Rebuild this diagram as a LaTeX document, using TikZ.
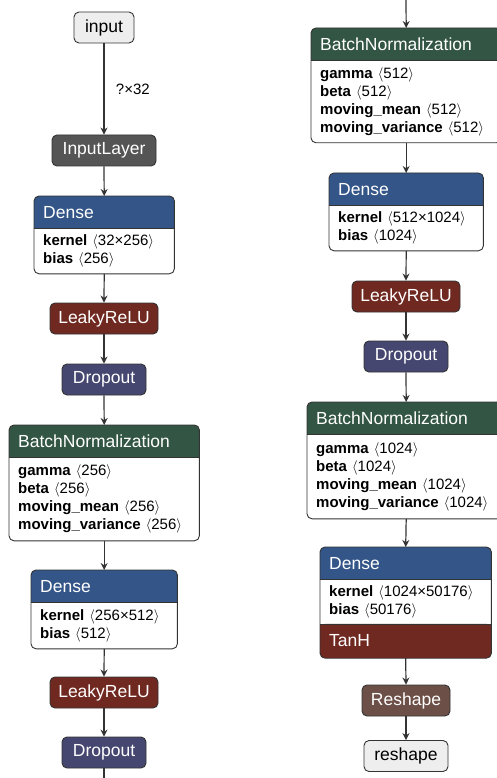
\documentclass[tikz,border=0pt]{standalone}
\usepackage{fontspec}
\setmainfont{Liberation Sans}
\usetikzlibrary{arrows.meta,backgrounds}
\definecolor{couche}{RGB}{51,85,136}
\definecolor{activation}{RGB}{112,41,33}
\definecolor{normalisation}{RGB}{51,85,68}
\definecolor{abandon}{RGB}{69,71,112}
\definecolor{forme}{RGB}{108,79,71}
\definecolor{donnees}{RGB}{85,85,85}
\definecolor{entree}{RGB}{238,238,238}
\definecolor{bord}{RGB}{51,51,51}
\newcommand\taille[1]{\ $\langle$#1$\rangle$}
\begin{document}
\begin{tikzpicture}[x=1pt,y=-1pt]
	% Styles
	\tikzstyle{fleche}=[-{Stealth[length=7pt,width=7pt]},line width=1.2pt,draw=bord]
	\tikzstyle{lien}=[-,line width=1.2pt,draw=bord]
	\tikzstyle{noeud}=[draw=bord,line width=0.9pt,rounded corners=5pt,minimum height=31pt,inner sep=0pt,text=white,font=\fontsize{17.5}{19}\selectfont]
	\tikzstyle{feuille}=[noeud,fill=entree,text=black]
	\tikzstyle{entete}=[rectangle,minimum height=32pt,inner xsep=9pt,inner ysep=0pt,text=white,align=left,anchor=north west,font=\fontsize{17.5}{19}\selectfont]
	\tikzstyle{corps}=[rectangle,inner xsep=9pt,inner ysep=0pt,align=left,anchor=north west,font=\fontsize{15}{18}\selectfont]
	\tikzstyle{cadre}=[draw=bord,line width=0.9pt,rounded corners=5pt]
	\tikzstyle{commentaire}=[black,font=\fontsize{15}{16}\selectfont]
	\useasboundingbox (0,0) rectangle (496,778);
	% Colonne de gauche
	\node[feuille,minimum width=60pt] (input) at (104,27.5) {input};
	\node[noeud,fill=donnees,minimum width=104pt] (inputlayer) at (104,150.5) {InputLayer};
	\node[entete,text width=122pt] (denseA) at (34,196) {Dense};
	\node[corps,text width=122pt,minimum height=45pt] (denseAc) at (denseA.south west) {\textbf{kernel}\taille{32×256}\\\textbf{bias}\taille{256}};
	\node[noeud,fill=activation,minimum width=108pt] (reluA) at (104,318.5) {LeakyReLU};
	\node[noeud,fill=abandon,minimum width=84pt] (dropA) at (104,379.5) {Dropout};
	\node[entete,text width=172pt] (bnA) at (9,425) {BatchNormalization};
	\node[corps,text width=172pt,minimum height=83pt] (bnAc) at (bnA.south west) {\textbf{gamma}\taille{256}\\\textbf{beta}\taille{256}\\\textbf{moving\_mean}\taille{256}\\\textbf{moving\_variance}\taille{256}};
	\node[entete,text width=128pt] (denseB) at (31,570) {Dense};
	\node[corps,text width=128pt,minimum height=46pt] (denseBc) at (denseB.south west) {\textbf{kernel}\taille{256×512}\\\textbf{bias}\taille{512}};
	\node[noeud,fill=activation,minimum width=108pt] (reluB) at (104,692.5) {LeakyReLU};
	\node[noeud,fill=abandon,minimum width=84pt] (dropB) at (104,752.5) {Dropout};
	\coordinate (bas) at (104,778);
	% Colonne de droite
	\coordinate (haut) at (406,0);
	\node[entete,text width=172pt] (bnB) at (311,28) {BatchNormalization};
	\node[corps,text width=172pt,minimum height=82pt] (bnBc) at (bnB.south west) {\textbf{gamma}\taille{512}\\\textbf{beta}\taille{512}\\\textbf{moving\_mean}\taille{512}\\\textbf{moving\_variance}\taille{512}};
	\node[entete,text width=136pt] (denseC) at (329,173) {Dense};
	\node[corps,text width=136pt,minimum height=45pt] (denseCc) at (denseC.south west) {\textbf{kernel}\taille{512×1024}\\\textbf{bias}\taille{1024}};
	\node[noeud,fill=activation,minimum width=108pt] (reluC) at (406,296.5) {LeakyReLU};
	\node[noeud,fill=abandon,minimum width=84pt] (dropC) at (406,356.5) {Dropout};
	\node[entete,text width=180pt] (bnC) at (307,402) {BatchNormalization};
	\node[corps,text width=180pt,minimum height=84pt] (bnCc) at (bnC.south west) {\textbf{gamma}\taille{1024}\\\textbf{beta}\taille{1024}\\\textbf{moving\_mean}\taille{1024}\\\textbf{moving\_variance}\taille{1024}};
	\node[entete,text width=153pt] (denseD) at (320,547) {Dense};
	\node[corps,text width=153pt,minimum height=44pt] (denseDc) at (denseD.south west) {\textbf{kernel}\taille{1024×50176}\\\textbf{bias}\taille{50176}};
	\node[entete,text width=153pt,minimum height=34pt] (tanh) at (denseDc.south west) {TanH};
	\node[noeud,fill=forme,minimum width=88pt] (reshapeL) at (406,700.5) {Reshape};
	\node[feuille,minimum width=84pt] (reshape) at (406,756) {reshape};
	% Fonds des entetes
	\begin{scope}[on background layer]
		\foreach \n/\c in {denseA/couche,bnA/normalisation,denseB/couche,bnB/normalisation,denseC/couche,bnC/normalisation,denseD/couche}{
			\fill[\c,rounded corners=5pt] (\n.north west) rectangle (\n.south east);
			\fill[\c] (\n.west) rectangle (\n.south east);
		}
		\fill[activation,rounded corners=5pt] (tanh.north west) rectangle (tanh.south east);
		\fill[activation] (tanh.north west) rectangle (tanh.east);
	\end{scope}
	% Cadres
	\foreach \n/\m in {denseA/denseAc,bnA/bnAc,denseB/denseBc,bnB/bnBc,denseC/denseCc,bnC/bnCc,denseD/tanh}{
		\draw[cadre] (\n.north west) rectangle (\m.south east);
		\draw[bord,line width=0.6pt] (\n.south west) -- (\n.south east);
	}
	\draw[bord,line width=0.6pt] (tanh.north west) -- (tanh.north east);
	% Arcs
	\draw[fleche] (input.south) -- (inputlayer.north) node[commentaire,midway,anchor=west,xshift=8pt]{?×32};
	\draw[fleche] (inputlayer.south) -- (denseA.north);
	\draw[fleche] (denseAc.south) -- (reluA.north);
	\draw[fleche] (reluA.south) -- (dropA.north);
	\draw[fleche] (dropA.south) -- (bnA.north);
	\draw[fleche] (bnAc.south) -- (denseB.north);
	\draw[fleche] (denseBc.south) -- (reluB.north);
	\draw[fleche] (reluB.south) -- (dropB.north);
	\draw[lien] (dropB.south) -- (bas);
	\draw[fleche] (haut) -- (bnB.north);
	\draw[fleche] (bnBc.south) -- (denseC.north);
	\draw[fleche] (denseCc.south) -- (reluC.north);
	\draw[fleche] (reluC.south) -- (dropC.north);
	\draw[fleche] (dropC.south) -- (bnC.north);
	\draw[fleche] (bnCc.south) -- (denseD.north);
	\draw[fleche] (tanh.south) -- (reshapeL.north);
	\draw[fleche] (reshapeL.south) -- (reshape.north);
\end{tikzpicture}
\end{document}
